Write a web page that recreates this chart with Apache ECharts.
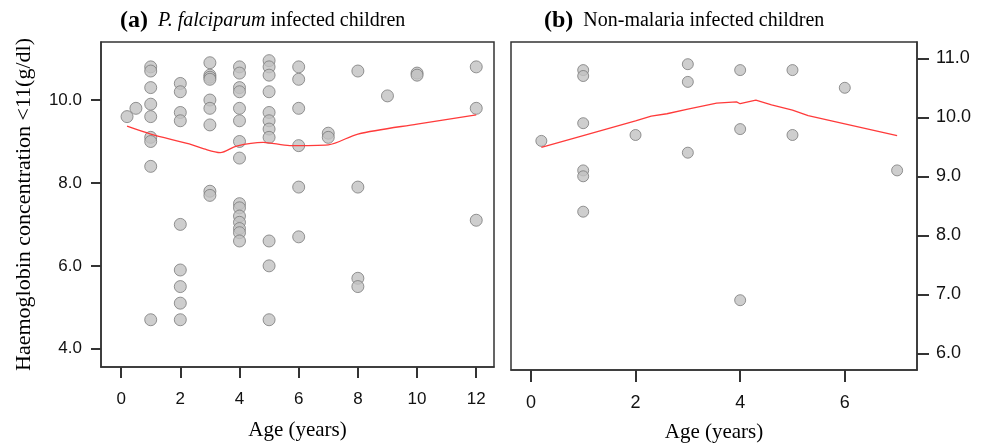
<!DOCTYPE html>
<html><head><meta charset="utf-8">
<script src="https://cdn.jsdelivr.net/npm/echarts@6/dist/echarts.min.js"></script>
<style>html,body{margin:0;padding:0;background:#fff}#c{width:989px;height:444px}</style>
</head><body><div id="c"></div>
<script>
// Panel (a): P. falciparum infected children
const ageA = [0.2,0.5,
  1,1,1,1,1,1,1,1,1,
  2,2,2,2,2,2,2,2,2,
  3,3,3,3,3,3,3,3,3,
  4,4,4,4,4,4,4,4,4,4,4,4,4,4,4,
  5,5,5,5,5,5,5,5,5,5,5,
  6,6,6,6,6,6,
  7,7,
  8,8,8,8,
  9,
  10,10,
  12,12,12];
const hbA = [9.6,9.8,
  10.8,10.7,10.3,9.9,9.6,9.1,9.0,8.4,4.7,
  10.4,10.2,9.7,9.5,7.0,5.9,5.5,5.1,4.7,
  10.9,10.6,10.55,10.5,10.0,9.8,9.4,7.8,7.7,
  10.8,10.65,10.3,10.2,9.8,9.5,9.0,8.6,7.5,7.4,7.2,7.05,6.9,6.8,6.6,
  10.95,10.8,10.6,10.2,9.7,9.5,9.3,9.1,6.6,6.0,4.7,
  10.8,10.5,9.8,8.9,7.9,6.7,
  9.2,9.1,
  10.7,7.9,5.7,5.5,
  10.1,
  10.65,10.6,
  10.8,9.8,7.1];
const fitAgeA = [0.2,1,2.3,2.8,3.35,3.9,4.8,5.7,7.0,8.0,10.0,12.0];
const fitHbA  = [9.37,9.18,8.94,8.82,8.73,8.89,8.98,8.9,8.92,9.18,9.42,9.64];

// Panel (b): Non-malaria infected children
const ageB = [0.2,1,1,1,1,1,1,2,3,3,3,4,4,4,5,5,6,7];
const hbB  = [9.6,10.8,10.7,9.9,9.1,9.0,8.4,9.7,10.9,10.6,9.4,10.8,9.8,6.9,10.8,9.7,10.5,9.1];
const fitAgeB = [0.2,1,2,2.3,2.6,3,3.55,3.93,4.0,4.3,4.6,5.0,5.3,6.0,7.0];
const fitHbB  = [9.49,9.69,9.94,10.02,10.06,10.14,10.24,10.26,10.23,10.29,10.21,10.12,10.03,9.89,9.69];

// Tick labels
const xTicksA = [0,2,4,6,8,10,12];
const yTicksA = [4,6,8,10];
const xTicksB = [0,2,4,6];
const yTicksB = [6,7,8,9,10,11];

const titleA = ['(a)','P. falciparum','infected children'];
const titleB = ['(b)','Non-malaria infected children'];
const xName = 'Age (years)';
const yName = 'Haemoglobin concentration <11(g/dl)';

const zip = (a,b) => a.map((v,i)=>[v,b[i]]);
const serif = "'Liberation Serif','DejaVu Serif',serif";
const sans = "'Liberation Sans Narrow','Liberation Sans',Arial,sans-serif";
const axisCol = '#333';

const chart = echarts.init(document.getElementById('c'), null, {renderer:'canvas'});
const ptStyle = {color:'#c2c2c2', borderColor:'#7a7a7a', borderWidth:1};

chart.setOption({
  animation:false,
  backgroundColor:'#fff',
  title:[
    {left:115, top:4, text:'{b|'+titleA[0]+'}  {i|'+titleA[1]+'} {n|'+titleA[2]+'}',
      textStyle:{fontWeight:'normal', rich:{
        b:{fontFamily:serif,fontWeight:'bold',fontSize:24,color:'#000'},
        i:{fontFamily:serif,fontStyle:'italic',fontWeight:'normal',fontSize:20,color:'#000'},
        n:{fontFamily:serif,fontWeight:'normal',fontSize:20,color:'#000'}}}},
    {left:539, top:4, text:'{b|'+titleB[0]+'}  {n|'+titleB[1]+'}',
      textStyle:{fontWeight:'normal', rich:{
        b:{fontFamily:serif,fontWeight:'bold',fontSize:24,color:'#000'},
        n:{fontFamily:serif,fontWeight:'normal',fontSize:20,color:'#000'}}}}
  ],
  grid:[
    {left:101, top:42, width:393, height:325, show:true, borderColor:axisCol, borderWidth:1.5, backgroundColor:'#fff',
      containLabel:false, outerBoundsMode:'none'},
    {left:511, top:42, width:406, height:328, show:true, borderColor:axisCol, borderWidth:1.5, backgroundColor:'#fff',
      containLabel:false, outerBoundsMode:'none'}
  ],
  xAxis:[
    {gridIndex:0, type:'value', min:-0.68, max:12.6,
      name:xName, nameLocation:'middle', nameGap:53,
      nameTextStyle:{fontFamily:serif,fontSize:21,color:'#000'},
      axisLine:{show:true,onZero:false,lineStyle:{color:axisCol,width:1.5}},
      axisTick:{show:true,customValues:xTicksA,length:11,lineStyle:{color:axisCol,width:2}},
      axisLabel:{customValues:xTicksA,margin:24,fontFamily:sans,fontSize:17,color:'#111'},
      splitLine:{show:false}},
    {gridIndex:1, type:'value', min:-0.38, max:7.38,
      name:xName, nameLocation:'middle', nameGap:52,
      nameTextStyle:{fontFamily:serif,fontSize:21,color:'#000'},
      axisLine:{show:true,onZero:false,lineStyle:{color:axisCol,width:1.5}},
      axisTick:{show:true,customValues:xTicksB,length:12,lineStyle:{color:axisCol,width:2}},
      axisLabel:{customValues:xTicksB,margin:24,fontFamily:sans,fontSize:18,color:'#111'},
      splitLine:{show:false}}
  ],
  yAxis:[
    {gridIndex:0, type:'value', min:3.56, max:11.40, position:'left',
      name:yName, nameLocation:'middle', nameGap:66, nameRotate:90,
      nameTextStyle:{fontFamily:serif,fontSize:22,color:'#000'},
      axisLine:{show:true,onZero:false,lineStyle:{color:axisCol,width:1.5}},
      axisTick:{show:true,customValues:yTicksA,length:10,lineStyle:{color:axisCol,width:2}},
      axisLabel:{customValues:yTicksA,margin:19,fontFamily:sans,fontSize:17,color:'#111',
        formatter:v=>v.toFixed(1)},
      splitLine:{show:false}},
    {gridIndex:1, type:'value', min:5.717, max:11.276, position:'right',
      axisLine:{show:true,onZero:false,lineStyle:{color:axisCol,width:1.5}},
      axisTick:{show:true,customValues:yTicksB,length:12,lineStyle:{color:axisCol,width:2}},
      axisLabel:{customValues:yTicksB,margin:19,fontFamily:sans,fontSize:18,color:'#111',
        formatter:v=>v.toFixed(1)},
      splitLine:{show:false}}
  ],
  series:[
    {type:'scatter', xAxisIndex:0, yAxisIndex:0, data:zip(ageA,hbA), symbolSize:12, itemStyle:ptStyle, z:2},
    {type:'line', xAxisIndex:0, yAxisIndex:0, data:zip(fitAgeA,fitHbA), showSymbol:false, smooth:0.3,
      lineStyle:{color:'#ff3b3b',width:1.3}, z:3},
    {type:'scatter', xAxisIndex:1, yAxisIndex:1, data:zip(ageB,hbB), symbolSize:11, itemStyle:ptStyle, z:2},
    {type:'line', xAxisIndex:1, yAxisIndex:1, data:zip(fitAgeB,fitHbB), showSymbol:false,
      lineStyle:{color:'#ff3b3b',width:1.3}, z:3}
  ]
});
</script>
</body></html>
